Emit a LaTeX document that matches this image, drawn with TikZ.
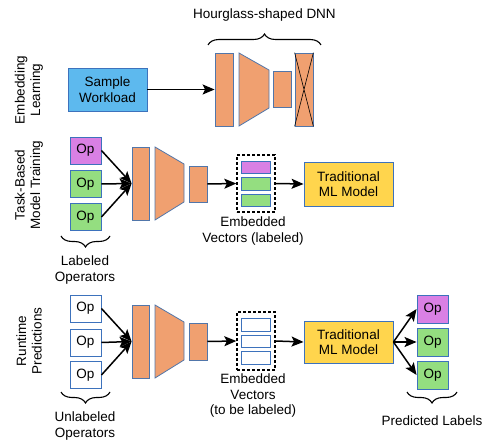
\documentclass[tikz,border=0pt]{standalone}
\usepackage{fontspec}
\setmainfont{Liberation Sans}
\usetikzlibrary{arrows.meta,decorations.pathreplacing}
\definecolor{swblue}{HTML}{5DB9EE}
\definecolor{bord}{HTML}{3D72BC}
\definecolor{orng}{HTML}{F0A070}
\definecolor{purp}{HTML}{D980E4}
\definecolor{grn}{HTML}{94DE80}
\definecolor{yel}{HTML}{FFD54D}
\begin{document}
\begin{tikzpicture}[x=1pt,y=-1pt,
  every node/.style={font=\fontsize{13.5}{15.5}\selectfont},
  box/.style={draw=bord,line width=0.9pt,inner sep=0pt,minimum width=31pt,minimum height=27pt},
  layer/.style={draw=bord!70!gray,line width=0.8pt,fill=orng,inner sep=0pt,minimum width=17pt},
  trap/.style={draw=bord!70!gray,line width=0.8pt,fill=orng},
  bar/.style={draw=bord,line width=0.9pt,inner sep=0pt,minimum width=29pt,minimum height=12.5pt},
  dbox/.style={draw=black,dashed,line width=1.4pt,dash pattern=on 3pt off 2pt,inner sep=0pt,minimum width=38pt},
  ml/.style={draw=bord,line width=0.9pt,fill=yel,inner sep=0pt,minimum width=89pt,minimum height=44pt,align=center},
  arr/.style={line width=1.5pt,-{Stealth[length=12pt,width=10pt,inset=2.5pt]}},
  brc/.style={line width=1.1pt,decorate,decoration={brace,amplitude=11pt}},
  lbl/.style={align=center,inner sep=0pt},
  rot/.style={align=center,inner sep=0pt,rotate=90}]
\useasboundingbox (0,0) rectangle (487,443);

% ---------- Row 1: Embedding learning ----------
\node[rot] (t1) at (29,90) {Embedding\\Learning};
\node[draw=bord,line width=0.9pt,fill=swblue,inner sep=0pt,minimum width=79pt,minimum height=43pt,align=center] (sw) at (107.5,89.5) {Sample\\Workload};
\node[layer,minimum height=73pt,minimum width=18pt] (d1a) at (224,89.5) {};
\draw[trap] (239,53) -- (269,70) -- (269,108) -- (239,126) -- cycle;
\node[layer,minimum height=36pt,minimum width=18pt] (d1c) at (282,89) {};
\node[layer,minimum height=73pt,minimum width=18pt] (d1d) at (304,89.5) {};
\draw[line width=0.6pt] (d1d.north west) -- (d1d.south east) (d1d.north east) -- (d1d.south west);
\draw[arr] (sw) -- (d1a);
\coordinate (b1l) at (208,45);
\coordinate (b1r) at (321,45);
\draw[brc] (b1l) -- (b1r);
\node[lbl] (hg) at (264.5,15) {Hourglass-shaped DNN};

% ---------- Row 2: Task-based model training ----------
\node[rot] (t2) at (29,185) {Task-Based\\Model Training};
\node[box,fill=purp] (o21) at (85.5,150.5) {Op};
\node[box,fill=grn] (o22) at (85.5,184) {Op};
\node[box,fill=grn] (o23) at (85.5,217) {Op};
\node[layer,minimum height=73pt] (r2a) at (140.5,183.5) {};
\draw[trap] (155,147) -- (184,164) -- (184,202) -- (155,220) -- cycle;
\node[layer,minimum height=36pt,minimum width=18pt] (r2c) at (198,184) {};
\node[dbox,minimum height=57pt] (e2) at (256,183.5) {};
\node[bar,fill=purp] (e21) at (255.5,167.5) {};
\node[bar,fill=grn] (e22) at (255.5,184) {};
\node[bar,fill=grn] (e23) at (255.5,200.5) {};
\node[ml] (ml2) at (348.5,184) {Traditional\\ML Model};
\draw[arr] (o21.east) -- (r2a.west);
\draw[arr] (o22.east) -- (r2a.west);
\draw[arr] (o23.east) -- (r2a.west);
\draw[arr] (r2c.east) -- (e2.west);
\draw[arr] (e2.east) -- (ml2.west);
\node[lbl] (ev2) at (253,231) {Embedded\\Vectors (labeled)};
\coordinate (b2r) at (110,236);
\coordinate (b2l) at (61,236);
\draw[brc] (b2r) -- (b2l);
\node[lbl] (lo) at (85,270) {Labeled\\Operators};

% ---------- Row 3: Runtime predictions ----------
\node[rot] (t3) at (29,341) {Runtime\\Predictions};
\node[box,fill=white] (o31) at (85.5,308.5) {Op};
\node[box,fill=white] (o32) at (85.5,342.5) {Op};
\node[box,fill=white] (o33) at (85.5,375) {Op};
\node[layer,minimum height=73pt] (r3a) at (140.5,341.5) {};
\draw[trap] (155,305) -- (184,322) -- (184,360) -- (155,378) -- cycle;
\node[layer,minimum height=37pt,minimum width=18pt] (r3c) at (198,341.5) {};
\node[dbox,minimum height=58pt] (e3) at (256,341) {};
\node[bar,fill=white] (e31) at (255.5,325) {};
\node[bar,fill=white] (e32) at (255.5,341.5) {};
\node[bar,fill=white] (e33) at (255.5,358) {};
\node[ml,minimum height=42pt] (ml3) at (348.5,342) {Traditional\\ML Model};
\node[box,fill=purp,minimum height=28pt] (p1) at (432.5,309) {Op};
\node[box,fill=grn,minimum height=28pt] (p2) at (432.5,342) {Op};
\node[box,fill=grn,minimum height=28pt] (p3) at (432.5,375) {Op};
\draw[arr] (o31.east) -- (r3a.west);
\draw[arr] (o32.east) -- (r3a.west);
\draw[arr] (o33.east) -- (r3a.west);
\draw[arr] (r3c.east) -- (e3.west);
\draw[arr] (e3.east) -- (ml3.west);
\draw[arr] (ml3.east) -- (p1.west);
\draw[arr] (ml3.east) -- (p2.west);
\draw[arr] (ml3.east) -- (p3.west);
\node[lbl] (ev3) at (253,396) {Embedded\\Vectors\\(to be labeled)};
\coordinate (b3r) at (110,392);
\coordinate (b3l) at (61,392);
\draw[brc] (b3r) -- (b3l);
\node[lbl] (uo) at (85,426) {Unlabeled\\Operators};
\coordinate (b4r) at (457,392);
\coordinate (b4l) at (407,392);
\draw[brc] (b4r) -- (b4l);
\node[lbl] (pl) at (432,421) {Predicted Labels};
\end{tikzpicture}
\end{document}
